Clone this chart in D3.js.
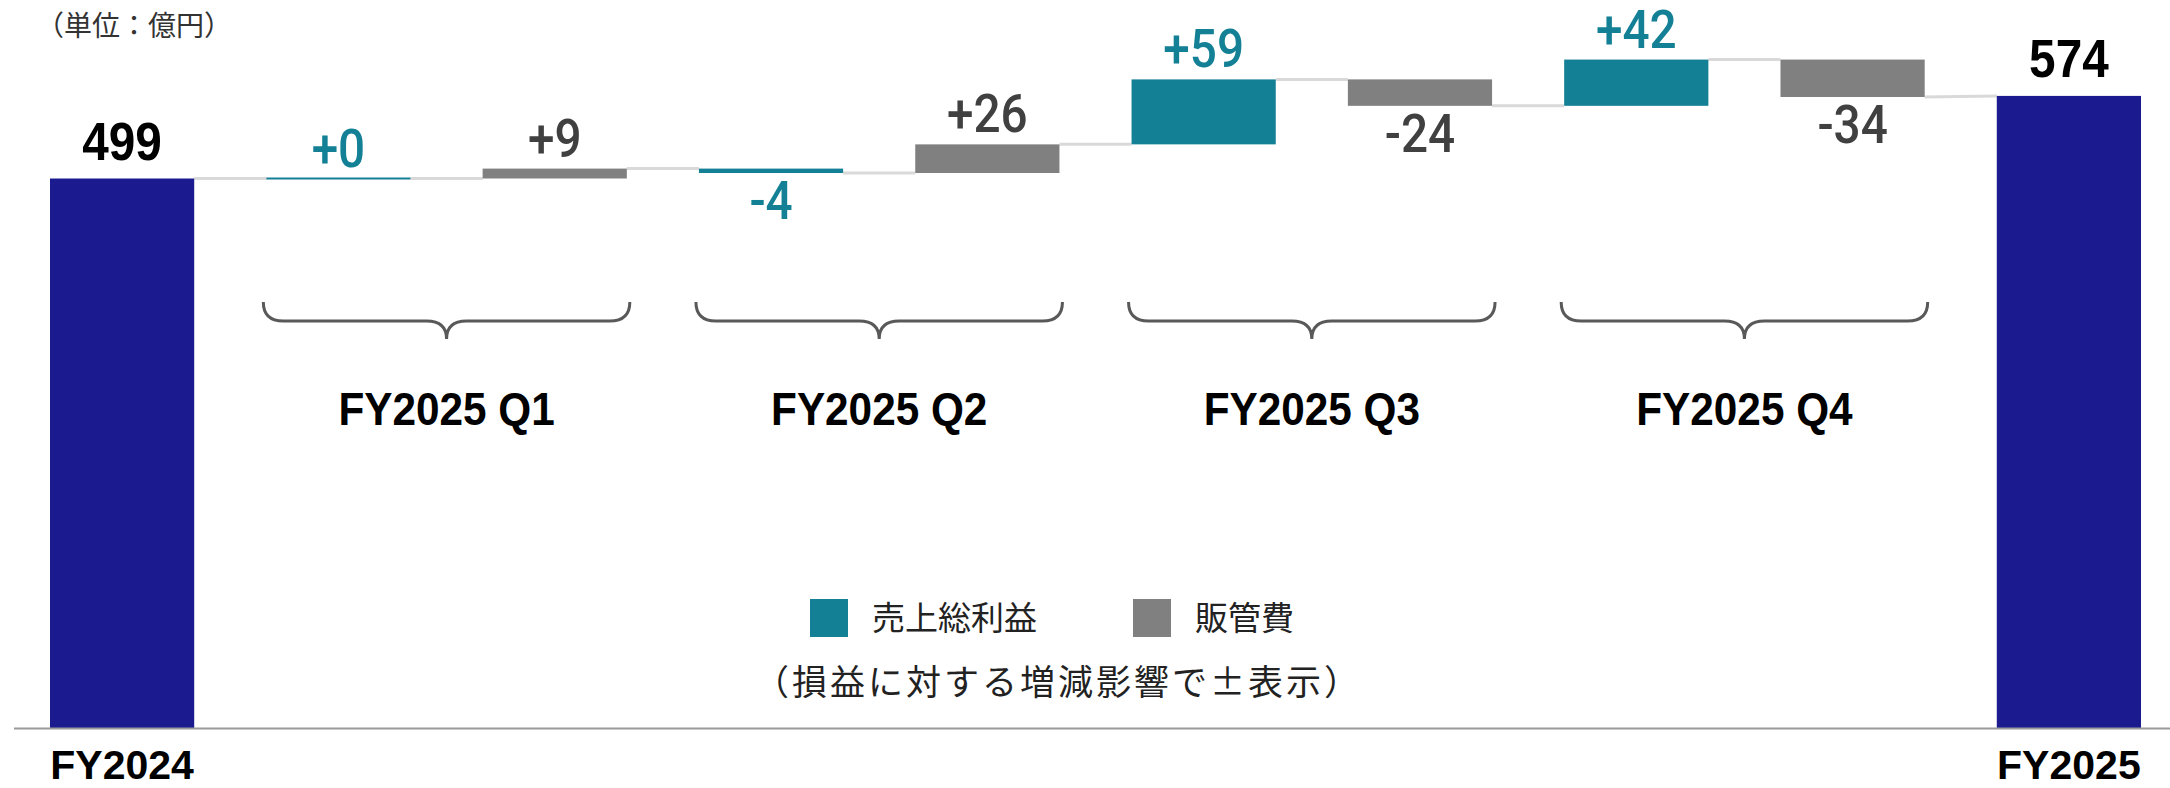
<!DOCTYPE html>
<html>
<head>
<meta charset="utf-8">
<script src="https://cdn.jsdelivr.net/npm/d3@7"></script>
<style>
  body { margin: 0; background: #fff; }
  svg { display: block; }
</style>
</head>
<body>
<div id="chart-div"></div>
<script>
// Chart size
const WIDTH = 2170;
const HEIGHT = 788;
const BASE_Y = 728;

// Data
const startLabel = 'FY2024';
const startValue = 499;
const endLabel = 'FY2025';
const endValue = 574;
const quarters = ['FY2025 Q1', 'FY2025 Q2', 'FY2025 Q3', 'FY2025 Q4'];
const grossProfit = [0, -4, 59, 42];   // 売上総利益
const sgaExpense = [9, 26, -24, -34];  // 販管費
const legendNames = ['売上総利益', '販管費'];
const unitText = '（単位：億円）';
const noteText = '（損益に対する増減影響で±表示）';

const COLORS = { total: '#1b1a8e', gross: '#148096', sga: '#808080', connector: '#d9d9d9' };
const LABEL_COLORS = { total: '#000000', gross: '#148096', sga: '#404040' };
const BOLD_FONT = '"Liberation Sans", Arial, sans-serif';
const NUM_FONT = 'Roboto, "Liberation Sans", Arial, sans-serif';
const JP_FONT = '"Noto Sans CJK JP", "Noto Sans", sans-serif';
const SQUEEZE = 0.9; // the numbers in the reference are slightly condensed

setup();

function setup() {
    // build the waterfall steps
    const steps = [];
    steps.push({ key: startLabel, type: 'total', from: 0, to: startValue, value: startValue });
    let level = startValue;
    quarters.forEach((q, i) => {
        steps.push({ key: q + '-gross', type: 'gross', from: level, to: level + grossProfit[i], value: grossProfit[i], quarter: q });
        level += grossProfit[i];
        steps.push({ key: q + '-sga', type: 'sga', from: level, to: level + sgaExpense[i], value: sgaExpense[i], quarter: q });
        level += sgaExpense[i];
    });
    steps.push({ key: endLabel, type: 'total', from: 0, to: endValue, value: endValue });

    const xScale = d3.scaleBand()
        .domain(steps.map(d => d.key))
        .range([50, 2141])
        .paddingInner(1 / 3)
        .paddingOuter(0);

    const yScale = d3.scaleLinear()
        .domain([0, startValue])
        .range([BASE_Y, 178.5]);

    const svg = d3.select('#chart-div')
        .append('svg')
        .attr('width', WIDTH)
        .attr('height', HEIGHT);

    // unit label
    svg.append('text')
        .attr('x', 36)
        .attr('y', 36)
        .attr('font-family', JP_FONT)
        .attr('font-size', 28)
        .attr('fill', '#333')
        .text(unitText);

    // connectors between bars
    const links = d3.pairs(steps).map(([a, b]) => ({
        x1: xScale(a.key) + xScale.bandwidth(),
        x2: xScale(b.key),
        y1: yScale(a.to),
        y2: yScale(b.type === 'total' ? b.to : b.from)
    }));
    svg.selectAll('.connector')
        .data(links)
        .enter()
        .append('line')
        .attr('class', 'connector')
        .attr('x1', d => d.x1)
        .attr('x2', d => d.x2)
        .attr('y1', d => d.y1)
        .attr('y2', d => d.y2)
        .attr('stroke', COLORS.connector)
        .attr('stroke-width', 3);

    // bars
    svg.selectAll('.bar')
        .data(steps)
        .enter()
        .append('rect')
        .attr('class', 'bar')
        .attr('x', d => xScale(d.key))
        .attr('width', xScale.bandwidth())
        .attr('y', d => Math.min(yScale(d.from), yScale(d.to)) - (d.from === d.to ? 1 : 0))
        .attr('height', d => Math.max(2, Math.abs(yScale(d.from) - yScale(d.to))))
        .attr('fill', d => COLORS[d.type]);

    // baseline
    svg.append('line')
        .attr('x1', 14)
        .attr('x2', WIDTH)
        .attr('y1', BASE_Y + 0.5)
        .attr('y2', BASE_Y + 0.5)
        .attr('stroke', '#999')
        .attr('stroke-width', 2);

    // value labels
    const fmt = v => (v < 0 ? '-' : '+') + Math.abs(v);
    svg.selectAll('.value-label')
        .data(steps)
        .enter()
        .append('text')
        .attr('class', 'value-label')
        .attr('transform', d => {
            const x = xScale(d.key) + xScale.bandwidth() / 2;
            let y;
            if (d.type === 'total') y = yScale(d.to) - 19;
            else if (d.value >= 0) y = yScale(d.to) - 12;
            else y = yScale(d.to) + 46;
            return `translate(${x}, ${y}) scale(${SQUEEZE}, 1)`;
        })
        .attr('text-anchor', 'middle')
        .attr('font-family', d => d.type === 'total' ? BOLD_FONT : NUM_FONT)
        .attr('font-weight', d => d.type === 'total' ? 'bold' : 500)
        .attr('font-size', 53)
        .attr('fill', d => LABEL_COLORS[d.type])
        .text(d => d.type === 'total' ? d.value : fmt(d.value));

    // total category labels under the axis
    svg.selectAll('.total-label')
        .data(steps.filter(d => d.type === 'total'))
        .enter()
        .append('text')
        .attr('class', 'total-label')
        .attr('x', d => xScale(d.key) + xScale.bandwidth() / 2)
        .attr('y', 779)
        .attr('text-anchor', 'middle')
        .attr('font-family', BOLD_FONT)
        .attr('font-weight', 'bold')
        .attr('font-size', 41)
        .attr('fill', '#000')
        .text(d => d.key);

    // braces and quarter labels
    const braceTop = 302, braceMid = 321, braceTip = 339, r = 20;
    quarters.forEach(q => {
        const x0 = xScale(q + '-gross') - 3;
        const x1 = xScale(q + '-sga') + xScale.bandwidth() + 3;
        const cx = (x0 + x1) / 2;
        const p = d3.path();
        p.moveTo(x0, braceTop);
        p.quadraticCurveTo(x0, braceMid, x0 + r, braceMid);
        p.lineTo(cx - r, braceMid);
        p.quadraticCurveTo(cx, braceMid, cx, braceTip);
        p.quadraticCurveTo(cx, braceMid, cx + r, braceMid);
        p.lineTo(x1 - r, braceMid);
        p.quadraticCurveTo(x1, braceMid, x1, braceTop);
        svg.append('path')
            .attr('d', p.toString())
            .attr('fill', 'none')
            .attr('stroke', '#595959')
            .attr('stroke-width', 3);

        svg.append('text')
            .attr('transform', `translate(${cx}, 425) scale(${SQUEEZE}, 1)`)
            .attr('text-anchor', 'middle')
            .attr('font-family', BOLD_FONT)
            .attr('font-weight', 'bold')
            .attr('font-size', 47)
            .attr('fill', '#000')
            .text(q);
    });

    // legend
    const legendItems = [
        { name: legendNames[0], color: COLORS.gross, x: 810 },
        { name: legendNames[1], color: COLORS.sga, x: 1133 }
    ];
    const legend = svg.selectAll('.legend')
        .data(legendItems)
        .enter()
        .append('g')
        .attr('class', 'legend')
        .attr('transform', d => `translate(${d.x}, 599)`);
    legend.append('rect')
        .attr('width', 38)
        .attr('height', 38)
        .attr('fill', d => d.color);
    legend.append('text')
        .attr('x', 62)
        .attr('y', 31)
        .attr('font-family', JP_FONT)
        .attr('font-size', 33)
        .attr('fill', '#222')
        .text(d => d.name);

    svg.append('text')
        .attr('x', 1058)
        .attr('y', 695)
        .attr('text-anchor', 'middle')
        .attr('font-family', JP_FONT)
        .attr('font-size', 35)
        .attr('letter-spacing', 3)
        .attr('fill', '#222')
        .text(noteText);
}
</script>
</body>
</html>
